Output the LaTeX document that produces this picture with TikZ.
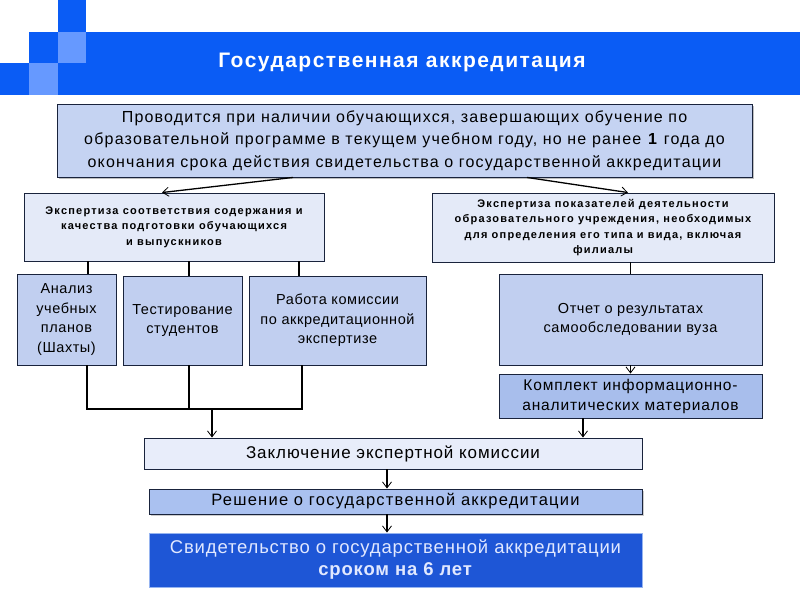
\documentclass[tikz,border=0pt]{standalone}
\usepackage{fontspec}
\setmainfont{Liberation Sans}
\usepackage{tikz}
\usetikzlibrary{arrows.meta,positioning,shadows}

\definecolor{bandblue}{RGB}{10,92,245}
\definecolor{lightsq}{RGB}{102,153,255}
\definecolor{topfill}{RGB}{197,211,242}
\definecolor{expfill}{RGB}{228,234,248}
\definecolor{subfill}{RGB}{193,207,240}
\definecolor{kitfill}{RGB}{168,190,236}
\definecolor{conclfill}{RGB}{232,237,250}
\definecolor{decfill}{RGB}{170,193,240}
\definecolor{certfill}{RGB}{30,86,214}
\definecolor{certline}{RGB}{150,180,240}
\definecolor{certtext}{RGB}{225,232,255}
\definecolor{boxline}{RGB}{25,35,60}

% tracked text: size, leading, letter space
\newcommand{\tracked}[3]{\addfontfeature{LetterSpace=#3}\fontsize{#1}{#2}\selectfont}

\begin{document}
\begin{tikzpicture}[
  x=1pt, y=-1pt,
  base/.style={draw=boxline, line width=0.9pt, align=center, inner sep=0pt},
  topbox/.style={base, fill=topfill, minimum width=695pt, minimum height=73pt,
    font=\tracked{16}{22.5}{7.5}, drop shadow={shadow xshift=2pt, shadow yshift=-2pt, opacity=0.5}},
  expbox/.style={base, fill=expfill, minimum height=68pt,
    font=\bfseries\tracked{11}{15.5}{11}},
  subbox/.style={base, fill=subfill, font=\tracked{14.5}{19.5}{4}},
  kitbox/.style={base, fill=kitfill, minimum width=263pt, minimum height=44pt,
    font=\tracked{15.5}{20}{5.5}},
  conclbox/.style={base, fill=conclfill, minimum width=498pt, minimum height=31pt,
    font=\tracked{17}{20}{5.5}},
  decbox/.style={base, fill=decfill, minimum width=493pt, minimum height=25pt,
    font=\tracked{16.5}{20}{7.5}, drop shadow={shadow xshift=1.5pt, shadow yshift=-1.5pt, opacity=0.4}},
  certbox/.style={draw=certline, line width=0.9pt, fill=certfill, text=certtext, align=center,
    minimum width=493pt, minimum height=54pt, font=\tracked{18.5}{22}{4.5}},
  conn/.style={line width=1.6pt},
  arr/.style={line width=1.3pt, -{Straight Barb[length=6pt, width=9pt, line width=0.8pt]}}
]
\useasboundingbox (0,0) rectangle (800,600);
% header band
\fill[bandblue] (58,0) rectangle (86,32);
\fill[bandblue] (29,32) rectangle (800,95);
\fill[bandblue] (0,63) rectangle (29,95);
\fill[lightsq] (58,32) rectangle (86,63);
\fill[lightsq] (29,63) rectangle (58,95);
\node[text=white, font=\bfseries\tracked{21}{25}{7}] (title) at (402,62) {Государственная аккредитация};

\node[topbox] (top) at (404.5,140.5) {Проводится при наличии обучающихся, завершающих обучение по\\
  образовательной программе в текущем учебном году, но не ранее \textbf{1} года до\\
  окончания срока действия свидетельства о государственной аккредитации};

\node[expbox, minimum width=300pt] (expL) at (174,227) {Экспертиза соответствия содержания и\\
  качества подготовки обучающихся\\ и выпускников};
\node[expbox, minimum width=342pt, minimum height=69pt] (expR) at (603,227.5) {Экспертиза показателей деятельности\\
  образовательного учреждения, необходимых\\ для определения его типа и вида, включая\\ филиалы};

\node[subbox, minimum width=99pt, minimum height=91pt] (anal) at (66.5,319.5) {Анализ\\ учебных\\ планов\\ (Шахты)};
\node[subbox, minimum width=119pt, minimum height=89pt] (test) at (182.5,320.5) {Тестирование\\ студентов};
\node[subbox, minimum width=177pt, minimum height=89pt] (work) at (337.5,320.5) {Работа комиссии\\ по аккредитационной\\ экспертизе};
\node[subbox, minimum width=263pt, minimum height=91pt] (report) at (630.5,319.5) {Отчет о результатах\\ самообследовании вуза};
\node[kitbox] (kit) at (630.5,396) {Комплект информационно-\\ аналитических материалов};

\node[conclbox] (concl) at (393,453.5) {Заключение экспертной комиссии};
\node[decbox] (dec) at (395.5,501.5) {Решение о государственной аккредитации};
\node[certbox] (cert) at (395.5,560) {Свидетельство о государственной аккредитации\\ \textbf{сроком на 6 лет}};

\coordinate (bus) at (212,409);

\draw[arr] ([xshift=-111.5pt]top.south) -- ([xshift=-12pt]expL.north);
\draw[arr] ([xshift=122.5pt]top.south) -- ([xshift=25pt]expR.north);

\draw[conn] ([xshift=21.5pt]anal.north) -- ([xshift=21.5pt]anal.north |- expL.south);
\draw[conn] ([xshift=6.5pt]test.north) -- ([xshift=6.5pt]test.north |- expL.south);
\draw[conn] ([xshift=-38.5pt]work.north) -- ([xshift=-38.5pt]work.north |- expL.south);

\draw[conn] ([xshift=20.5pt]anal.south) |- (bus) -| ([xshift=-35.5pt]work.south);
\draw[conn] ([xshift=6.5pt]test.south) -- ([xshift=6.5pt]test.south |- bus);
\draw[arr] (bus) -- (bus |- concl.north);

\draw[conn] (report.north) -- (report.north |- expR.south);
\draw[arr, line width=0.8pt] (report.south) -- (kit.north);
\draw[arr] ([xshift=-47.5pt]kit.south) -- ([xshift=-47.5pt]kit.south |- concl.north);

\draw[arr] ([xshift=-6pt]concl.south) -- ([xshift=-6pt]concl.south |- dec.north);
\draw[arr] ([xshift=-8.5pt]dec.south) -- ([xshift=-8.5pt]dec.south |- cert.north);
\end{tikzpicture}
\end{document}
